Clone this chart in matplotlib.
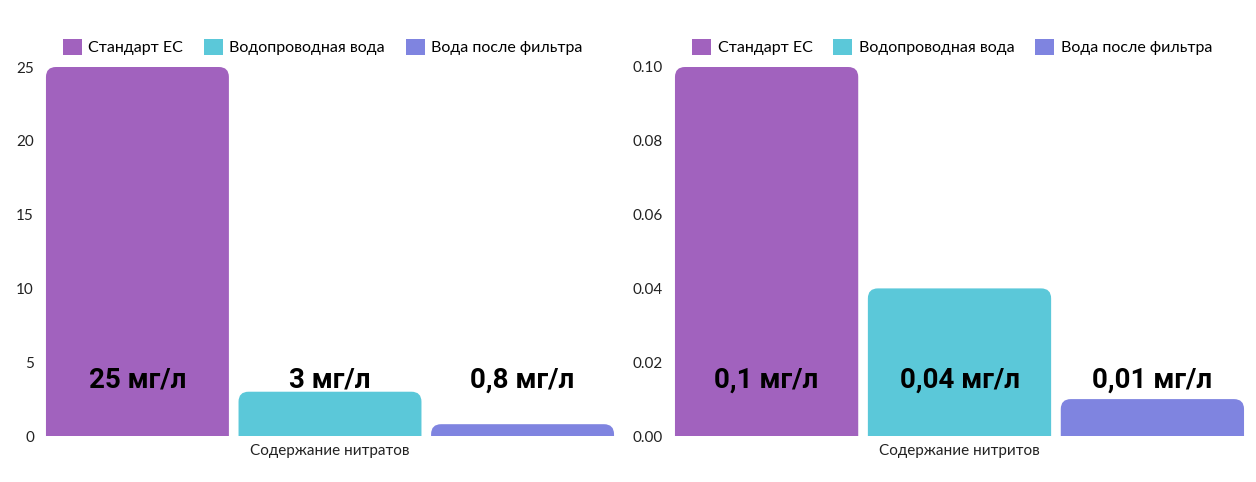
import numpy as np
import matplotlib
matplotlib.use("Agg")
import matplotlib.pyplot as plt
from matplotlib.patches import FancyBboxPatch
from matplotlib.ticker import FormatStrFormatter

plt.rcParams['font.family'] = ['Lato', 'DejaVu Sans']

# Data
series = ['Стандарт ЕС', 'Водопроводная вода', 'Вода после фильтра']
colors = ['#a162be', '#5bc8d9', '#7f84e0']
nitrate = [25, 3, 0.8]
nitrite = [0.1, 0.04, 0.01]
nitrate_labels = ['25 мг/л', '3 мг/л', '0,8 мг/л']
nitrite_labels = ['0,1 мг/л', '0,04 мг/л', '0,01 мг/л']
categories = ['Содержание нитратов', 'Содержание нитритов']

fig = plt.figure(figsize=(12.56, 4.82), dpi=100)
ax1 = fig.add_axes([45/1256, 46/482, 570/1256, 369/482])
ax2 = fig.add_axes([674/1256, 46/482, 571/1256, 369/482])

offsets = np.array([-1.0, 0.0, 1.0])
bw = 0.95
rad_px = 10


def draw(ax, vals, labels, cat, ymax, yticks, fmt):
    ax.set_xlim(-1.48, 1.48)
    ax.set_ylim(0, ymax)
    bars = ax.bar(offsets, vals, width=bw, color=colors)
    fig.canvas.draw()
    # data units per pixel
    bb = ax.get_window_extent()
    xpp = (1.48 * 2) / bb.width
    ypp = ymax / bb.height
    r = rad_px * xpp
    aspect = ypp / xpp
    handles = []
    for rect, c, s in zip(bars, colors, series):
        x, w, h = rect.get_x(), rect.get_width(), rect.get_height()
        rect.remove()
        ry = rad_px * ypp
        p = FancyBboxPatch((x, -ry), w, h + ry,
                           boxstyle="round,pad=0,rounding_size=%f" % r,
                           mutation_aspect=aspect, facecolor=c,
                           edgecolor='none', label=s)
        ax.add_patch(p)
        handles.append(p)
    for xo, lab in zip(offsets, labels):
        ax.text(xo, 0.152, lab, transform=ax.get_xaxis_transform(),
                ha='center', va='center', fontsize=20, fontweight='bold',
                family=['Roboto', 'DejaVu Sans'], color='black')
    ax.set_xticks([0])
    ax.set_xticklabels([cat], fontsize=11)
    ax.set_yticks(yticks)
    ax.yaxis.set_major_formatter(FormatStrFormatter(fmt))
    ax.tick_params(axis='both', length=0, labelsize=11, colors='#222222')
    ax.tick_params(axis='y', pad=8)
    ax.tick_params(axis='x', pad=6)
    for sp in ax.spines.values():
        sp.set_visible(False)
    ax.legend(handles=handles, loc='center', bbox_to_anchor=(0.487, 1.054),
              ncol=3, frameon=False, fontsize=11.5, handlelength=1.2,
              handleheight=1.2, handletextpad=0.4, columnspacing=1.3)


draw(ax1, nitrate, nitrate_labels, categories[0], 25, [0, 5, 10, 15, 20, 25], '%d')
draw(ax2, nitrite, nitrite_labels, categories[1], 0.1,
     [0, 0.02, 0.04, 0.06, 0.08, 0.10], '%.2f')

fig.savefig('out.png', dpi=100)
